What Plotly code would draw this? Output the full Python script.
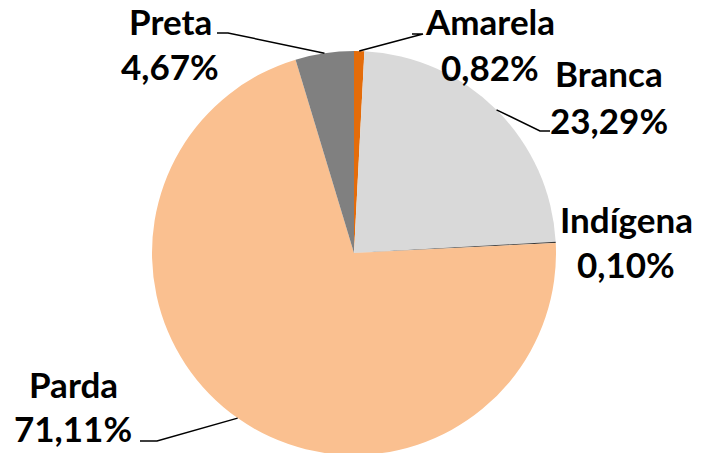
import math
import plotly.graph_objects as go

categories = ["Amarela", "Branca", "Indígena", "Parda", "Preta"]
values = [0.82, 23.29, 0.10, 71.11, 4.67]
value_labels = ["0,82%", "23,29%", "0,10%", "71,11%", "4,67%"]
colors = ["#E46C0A", "#D9D9D9", "#3A3A3A", "#FAC090", "#808080"]

W, H = 702, 453
OFF = 8          # page body margin in front of the figure
TEXT_DY = -3     # glyph centre vs. line box centre
CX, CY, R = 354, 253, 202  # pie centre / radius in screen pixels

FONT = dict(family="Lato", size=35, color="#000000")

# label layout (screen pixels): text centre x, name-line centre y, value-line centre y,
# leader elbow (x, y) and leader outer end x (None = no leader)
label_layout = {
    "Amarela": (490, 24, 70, (423, 34), 412),
    "Branca": (609, 76, 123, (540, 131), 550),
    "Indígena": (626, 222, 267, None, None),
    "Parda": (73, 387, 431, (157, 441), 140),
    "Preta": (170, 24, 69, (228, 33), 217),
}


def px(x):
    return (x - OFF) / W


def py(y):
    return 1 - (y - OFF) / H


fig = go.Figure(
    go.Pie(
        labels=categories,
        values=values,
        sort=False,
        direction="clockwise",
        rotation=0,
        marker=dict(colors=colors, line=dict(width=0)),
        textinfo="none",
        hoverinfo="label+percent",
        showlegend=False,
        domain=dict(
            x=[px(CX - R), px(CX + R)],
            y=[py(CY + R), py(CY - R)],
        ),
    )
)

total = sum(values)
cum = 0.0
annotations = []
shapes = []
for cat, val, vlab in zip(categories, values, value_labels):
    mid = (cum + val / 2) / total * 2 * math.pi
    cum += val
    ex = CX + R * math.sin(mid)
    ey = CY - R * math.cos(mid)
    tx, ny, vy, elbow, endx = label_layout[cat]
    annotations.append(dict(x=px(tx), y=py(ny + TEXT_DY), xref="paper", yref="paper",
                            text=f"<b>{cat}</b>", showarrow=False, font=FONT,
                            xanchor="center", yanchor="middle"))
    annotations.append(dict(x=px(tx), y=py(vy + TEXT_DY), xref="paper", yref="paper",
                            text=f"<b>{vlab}</b>", showarrow=False, font=FONT,
                            xanchor="center", yanchor="middle"))
    if elbow is not None:
        shapes.append(dict(type="path", xref="paper", yref="paper",
                           path=f"M {px(ex)} {py(ey)} L {px(elbow[0])} {py(elbow[1])} L {px(endx)} {py(elbow[1])}",
                           line=dict(color="#000000", width=1.5)))

fig.update_layout(
    width=W,
    height=H,
    margin=dict(l=0, r=0, t=0, b=0),
    paper_bgcolor="#FFFFFF",
    plot_bgcolor="#FFFFFF",
    annotations=annotations,
    shapes=shapes,
)

fig.write_html("out.html")
